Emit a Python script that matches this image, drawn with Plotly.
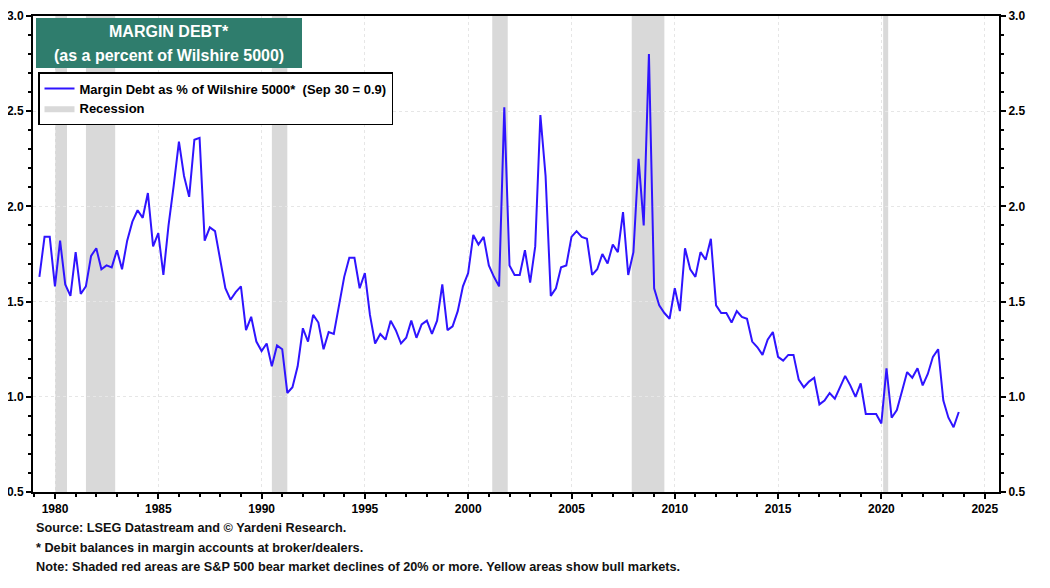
import pandas as pd
import plotly.graph_objects as go

# Quarterly margin debt as % of Wilshire 5000 (quarter ends, Mar 1979 .. Sep 2023)
margin_1979_1988 = [
    1.63, 1.84, 1.84, 1.58,
    1.82, 1.59, 1.53, 1.76,
    1.54, 1.58, 1.74, 1.78,
    1.67, 1.69, 1.68, 1.77,
    1.67, 1.82, 1.92, 1.98,
    1.94, 2.07, 1.79, 1.86,
    1.64, 1.90, 2.11, 2.34,
    2.16, 2.05, 2.35, 2.36,
    1.82, 1.89, 1.87, 1.71,
    1.57, 1.51, 1.55, 1.58,
]
margin_1989_1998 = [
    1.35, 1.42, 1.29, 1.24,
    1.28, 1.16, 1.27, 1.25,
    1.02, 1.05, 1.16, 1.36,
    1.29, 1.43, 1.39, 1.25,
    1.34, 1.33, 1.47, 1.63,
    1.73, 1.73, 1.57, 1.65,
    1.43, 1.28, 1.33, 1.30,
    1.40, 1.35, 1.28, 1.31,
    1.40, 1.31, 1.38, 1.40,
    1.33, 1.40, 1.59, 1.35,
]
margin_1999_2008 = [
    1.37, 1.45, 1.58, 1.65,
    1.85, 1.80, 1.84, 1.69,
    1.63, 1.58, 2.52, 1.69,
    1.64, 1.64, 1.77, 1.60,
    1.79, 2.48, 2.16, 1.53,
    1.57, 1.68, 1.69, 1.84,
    1.87, 1.84, 1.83, 1.64,
    1.67, 1.75, 1.70, 1.80,
    1.76, 1.97, 1.64, 1.76,
    2.25, 1.90, 2.80, 1.57,
]
margin_2009_2018 = [
    1.48, 1.44, 1.41, 1.57,
    1.45, 1.78, 1.67, 1.63,
    1.76, 1.72, 1.83, 1.48,
    1.44, 1.44, 1.39, 1.45,
    1.42, 1.41, 1.29, 1.26,
    1.22, 1.30, 1.34, 1.21,
    1.19, 1.22, 1.22, 1.09,
    1.05, 1.08, 1.10, 0.96,
    0.98, 1.02, 0.99, 1.05,
    1.11, 1.06, 1.00, 1.07,
]
margin_2019_2023 = [
    0.91, 0.91, 0.91, 0.86,
    1.15, 0.89, 0.93, 1.03,
    1.13, 1.10, 1.15, 1.06,
    1.12, 1.21, 1.25, 0.98,
    0.89, 0.84, 0.92,
]
margin_values = (margin_1979_1988 + margin_1989_1998 + margin_1999_2008
                 + margin_2009_2018 + margin_2019_2023)
quarter_dates = pd.date_range("1979-03-31", periods=len(margin_values), freq="QE")

recession_starts = ["1980-01-01", "1981-07-01", "1990-07-01", "2001-03-01", "2007-12-01", "2020-02-01"]
recession_ends = ["1980-07-31", "1982-11-30", "1991-03-31", "2001-11-30", "2009-06-30", "2020-04-30"]

FONT = "Liberation Sans, Arial, sans-serif"
LINE_COLOR = "#2f14ff"
REC_COLOR = "#d9d9d9"
BOX_GREEN = "#2f7d6d"

# page body adds an 8px offset; figure sized to fit the 1050x588 window
OFF = 8
W, H = 1034, 572
ML, MT = 33 - OFF, 16 - OFF
MR = W - (999 - OFF)
MB = H - (492 - OFF)
PW, PH = W - ML - MR, H - MT - MB


def px_x(p):
    return (p - OFF - ML) / PW


def px_y(p):
    return 1 - (p - OFF - MT) / PH


fig = go.Figure()

fig.add_trace(go.Scatter(
    x=quarter_dates, y=margin_values, mode="lines",
    line=dict(color=LINE_COLOR, width=2),
    name="<b>Margin Debt as % of Wilshire 5000*  (Sep 30 = 0.9)</b>",
))
fig.add_trace(go.Scatter(
    x=[None], y=[None], mode="lines", fill="toself",
    fillcolor=REC_COLOR, line=dict(width=0, color=REC_COLOR),
    name="<b>Recession</b>",
))
# invisible trace on right axis so right tick labels show
fig.add_trace(go.Scatter(
    x=quarter_dates, y=margin_values, mode="lines", yaxis="y2",
    line=dict(color="rgba(0,0,0,0)", width=0), showlegend=False, hoverinfo="skip",
))

for s, e in zip(recession_starts, recession_ends):
    fig.add_shape(type="rect", xref="x", yref="paper", x0=s, x1=e, y0=0, y1=1,
                  fillcolor=REC_COLOR, line=dict(width=0), layer="below")

# title box
fig.add_shape(type="rect", xref="paper", yref="paper",
              x0=px_x(36), x1=px_x(302), y0=px_y(68), y1=px_y(18),
              fillcolor=BOX_GREEN, line=dict(width=0), layer="above")
fig.add_annotation(xref="paper", yref="paper", x=px_x(169), y=px_y(32),
                   xanchor="center", yanchor="middle", showarrow=False,
                   text="<b>MARGIN DEBT*</b>", font=dict(family=FONT, size=16, color="white"))
fig.add_annotation(xref="paper", yref="paper", x=px_x(169), y=px_y(55),
                   xanchor="center", yanchor="middle", showarrow=False,
                   text="<b>(as a percent of Wilshire 5000)</b>", font=dict(family=FONT, size=16, color="white"))

notes = [
    "Source: LSEG Datastream and © Yardeni Research.",
    "* Debit balances in margin accounts at broker/dealers.",
    "Note: Shaded red areas are S&P 500 bear market declines of 20% or more. Yellow areas show bull markets.",
]
for i, t in enumerate(notes):
    fig.add_annotation(xref="paper", yref="paper", x=px_x(34), y=px_y(528 + 19.5 * i),
                       xanchor="left", yanchor="middle", showarrow=False,
                       text="<b>" + t + "</b>", font=dict(family=FONT, size=12.7, color="#111111"))

yax = dict(
    range=[0.5, 3.0], dtick=0.5, tick0=0.5, tickformat=".1f",
    showgrid=True, gridcolor="#e6e6e6", griddash="dot", gridwidth=1,
    ticks="outside", ticklen=5, tickwidth=1.5, tickcolor="black",
    minor=dict(dtick=0.1, ticks="outside", ticklen=3, tickcolor="black", showgrid=False),
    showline=True, linecolor="black", linewidth=2,
    tickfont=dict(family=FONT, size=12, color="black", weight="bold"),
    zeroline=False, fixedrange=True, automargin=False,
)
fig.update_layout(
    width=W, height=H,
    margin=dict(l=ML, r=MR, t=MT, b=MB),
    paper_bgcolor="white", plot_bgcolor="white",
    showlegend=True,
    legend=dict(x=px_x(38), y=px_y(72), xanchor="left", yanchor="top",
                bgcolor="white", bordercolor="black", borderwidth=1.5,
                font=dict(family=FONT, size=13, color="black"),
                tracegroupgap=0, itemwidth=30),
    xaxis=dict(
        type="date", range=["1978-12-08", "2025-09-10"],
        tick0="1980-01-01", dtick="M60", tickformat="%Y",
        showgrid=True, gridcolor="#e6e6e6", griddash="dot", gridwidth=1,
        ticks="outside", ticklen=5, tickwidth=1.5, tickcolor="black",
        minor=dict(dtick="M12", ticks="outside", ticklen=3, tickcolor="black", showgrid=False),
        showline=True, linecolor="black", linewidth=2, mirror=True,
        tickfont=dict(family=FONT, size=12, color="black", weight="bold"),
        zeroline=False, automargin=False,
    ),
    yaxis=dict(**yax, side="left"),
    yaxis2=dict(**yax, side="right", overlaying="y"),
)

fig.write_html("out.html")
